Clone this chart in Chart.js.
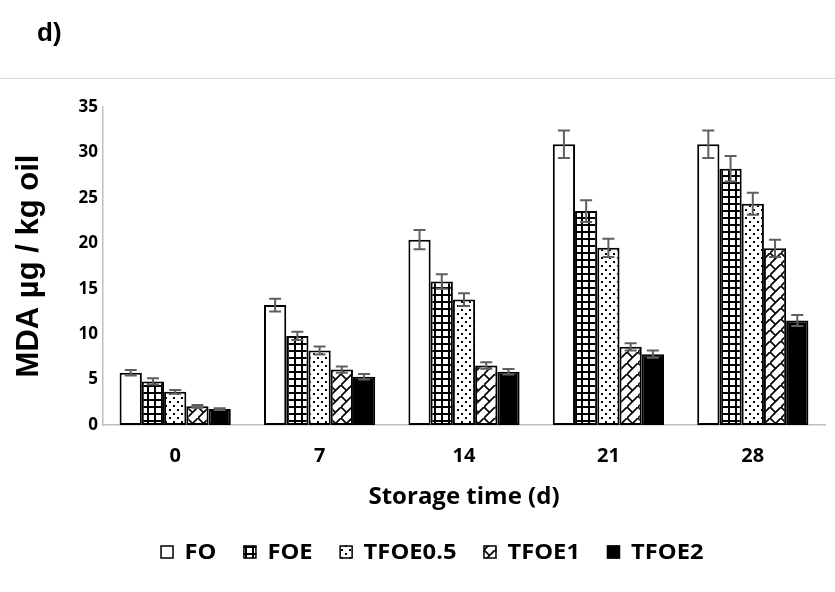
<!DOCTYPE html>
<html>
<head>
<meta charset="utf-8">
<script src="https://cdn.jsdelivr.net/npm/chart.js@4.4.0/dist/chart.umd.min.js"></script>
<style>
  html, body { margin: 0; padding: 0; background: #fff; }
  #wrap { position: relative; width: 835px; height: 592px; }
  #panel { position: absolute; left: 37px; top: 17px; font: bold 26px "Liberation Sans", Arial, sans-serif; color: #000; }
  #rule { position: absolute; left: 0; top: 78px; width: 835px; height: 1px; background: #d9d9d9; }
  canvas { position: absolute; left: 0; top: 0; }
</style>
</head>
<body>
<div id="wrap">
  <canvas id="c" width="835" height="592"></canvas>
  <div id="panel">d)</div>
  <div id="rule"></div>
</div>
<script>
// Storage days on the x axis
const categories = ['0', '7', '14', '21', '28'];
const seriesNames = ['FO', 'FOE', 'TFOE0.5', 'TFOE1', 'TFOE2'];

// MDA (µg / kg oil) per sample, one value per storage day
const FO      = [5.75, 13.2, 20.4, 30.9, 30.9];
const FOE     = [4.8, 9.8, 15.8, 23.55, 28.2];
const TFOE05  = [3.65, 8.2, 13.8, 19.5, 24.35];
const TFOE1   = [2.05, 6.1, 6.55, 8.6, 19.45];
const TFOE2   = [1.75, 5.3, 5.85, 7.8, 11.5];

// Standard deviations
const FO_err     = [0.3, 0.7, 1.05, 1.5, 1.5];
const FOE_err    = [0.35, 0.45, 0.8, 1.2, 1.4];
const TFOE05_err = [0.2, 0.45, 0.7, 1.0, 1.2];
const TFOE1_err  = [0.15, 0.35, 0.35, 0.4, 0.95];
const TFOE2_err  = [0.1, 0.3, 0.3, 0.4, 0.6];

const yTicks = [0, 5, 10, 15, 20, 25, 30, 35];

const TICK_FONT = '"Open Sans", sans-serif';

// ---- fill patterns ----
function tile(w, h, draw) {
  const c = document.createElement('canvas');
  c.width = w; c.height = h;
  const g = c.getContext('2d');
  g.fillStyle = '#fff';
  g.fillRect(0, 0, w, h);
  g.fillStyle = '#000';
  g.strokeStyle = '#000';
  draw(g, w, h);
  return document.getElementById('c').getContext('2d').createPattern(c, 'repeat');
}
const solidWhite = '#ffffff';
const gridPattern = tile(7, 7, (g) => {
  g.fillRect(0, 0, 7, 2);
  g.fillRect(0, 0, 2, 7);
});
const dotPattern = tile(8, 8, (g) => {
  g.fillRect(1, 1, 2, 2);
  g.fillRect(5, 5, 2, 2);
});
const zigPattern = tile(11, 11, (g, w, h) => {
  g.lineWidth = 1.7;
  g.beginPath();
  g.moveTo(-1, h + 1); g.lineTo(w + 1, -1);
  g.moveTo(0, 0); g.lineTo(w / 2, h / 2);
  g.stroke();
});
const solidBlack = '#000000';

const fills = [solidWhite, gridPattern, dotPattern, zigPattern, solidBlack];
const values = [FO, FOE, TFOE05, TFOE1, TFOE2];
const errors = [FO_err, FOE_err, TFOE05_err, TFOE1_err, TFOE2_err];

const datasets = seriesNames.map((name, i) => ({
  label: name,
  data: values[i],
  errors: errors[i],
  backgroundColor: fills[i],
  borderColor: '#000',
  borderWidth: 2,
  borderSkipped: false,
  categoryPercentage: 0.77,
  barPercentage: 1.0
}));

// error bars drawn from each bar's value ± deviation
const errorBars = {
  id: 'errorBars',
  afterDatasetsDraw(chart) {
    const ctx = chart.ctx;
    const y = chart.scales.y;
    ctx.save();
    ctx.strokeStyle = '#5f5f5f';
    ctx.lineWidth = 2;
    chart.data.datasets.forEach((ds, i) => {
      const meta = chart.getDatasetMeta(i);
      meta.data.forEach((bar, j) => {
        const v = ds.data[j], e = ds.errors[j];
        const top = y.getPixelForValue(v + e);
        const bot = y.getPixelForValue(v - e);
        const x = bar.x;
        ctx.beginPath();
        ctx.moveTo(x, top); ctx.lineTo(x, bot);
        ctx.moveTo(x - 6, top); ctx.lineTo(x + 6, top);
        ctx.moveTo(x - 6, bot); ctx.lineTo(x + 6, bot);
        ctx.stroke();
      });
    });
    ctx.restore();
  }
};

// legend row below the axis title
const bottomLegend = {
  id: 'bottomLegend',
  afterDraw(chart) {
    const ctx = chart.ctx;
    const box = 13, gapText = 11, gapItem = 27, sx = 1.13;
    const cy = 552, cx = 432;
    ctx.save();
    ctx.font = 'bold 21px ' + TICK_FONT;
    ctx.textBaseline = 'middle';
    const widths = chart.data.datasets.map(d => ctx.measureText(d.label).width * sx);
    let total = 0;
    widths.forEach((w, i) => { total += box + gapText + w + (i < widths.length - 1 ? gapItem : 0); });
    let x = cx - total / 2;
    chart.data.datasets.forEach((d, i) => {
      ctx.fillStyle = d.backgroundColor;
      ctx.fillRect(x, cy - box / 2, box, box);
      ctx.strokeStyle = '#000';
      ctx.lineWidth = 1.5;
      ctx.strokeRect(x + 0.5, cy - box / 2 + 0.5, box - 1, box - 1);
      ctx.fillStyle = '#000';
      ctx.save();
      ctx.translate(x + box + gapText, cy + 1);
      ctx.scale(sx, 1);
      ctx.fillText(d.label, 0, 0);
      ctx.restore();
      x += box + gapText + widths[i] + gapItem;
    });
    ctx.restore();
  }
};

new Chart(document.getElementById('c'), {
  type: 'bar',
  data: { labels: categories, datasets },
  options: {
    responsive: false,
    animation: false,
    layout: { padding: { top: 107, right: 10, bottom: 60, left: 0 } },
    plugins: { legend: { display: false }, tooltip: { enabled: false } },
    scales: {
      x: {
        grid: { display: false, drawTicks: false },
        border: { display: true, color: '#bfbfbf', width: 1.5 },
        ticks: { color: '#000', font: { family: TICK_FONT, weight: 'bold', size: 20 }, padding: 19 },
        title: {
          display: true, text: 'Storage time (d)', color: '#000',
          font: { family: TICK_FONT, weight: 'bold', size: 24 },
          padding: { top: 0, bottom: 20 }
        },
        afterFit(s) { s.height = 107; }
      },
      y: {
        min: 0, max: 35,
        afterBuildTicks(s) { s.ticks = yTicks.map(v => ({ value: v })); },
        grid: { display: false, drawTicks: false },
        border: { display: true, color: '#bfbfbf', width: 1.5 },
        ticks: { color: '#000', font: { family: TICK_FONT, weight: 'bold', size: 17 }, padding: 5 },
        title: {
          display: true, text: 'MDA µg / kg oil', color: '#000',
          font: { family: '"Liberation Sans", Arial, sans-serif', weight: 'bold', size: 31 },
          padding: { top: 11, bottom: 0 }
        },
        afterFit(s) { s.width = 103; }
      }
    }
  },
  plugins: [errorBars, bottomLegend]
});
</script>
</body>
</html>
